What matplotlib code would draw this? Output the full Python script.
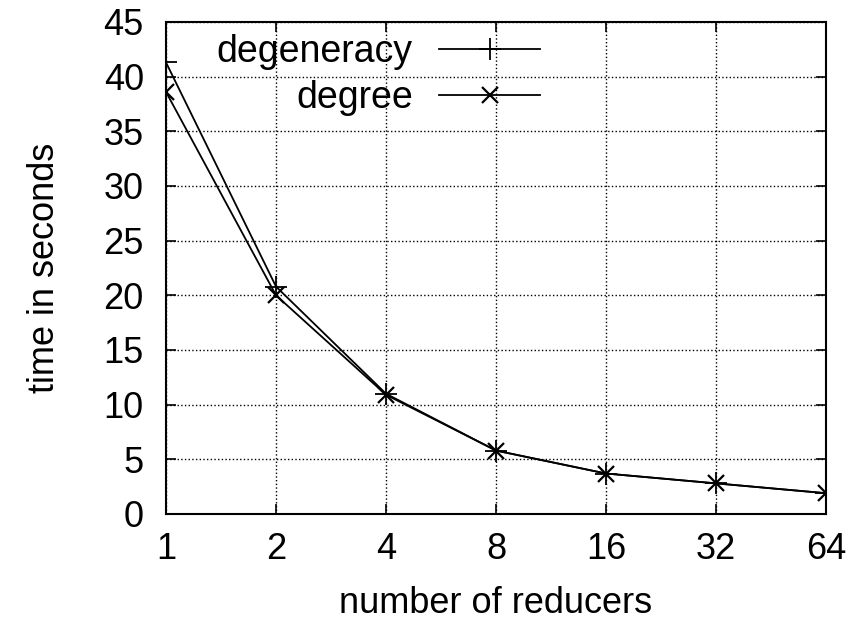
import matplotlib
matplotlib.use("Agg")
import matplotlib.pyplot as plt

plt.rcParams['font.family'] = ['Liberation Sans', 'DejaVu Sans']

# 数据
reducers = [1, 2, 4, 8, 16, 32, 64]
degeneracy = [41.3, 20.8, 11.0, 5.8, 3.7, 2.8, 1.9]
degree = [38.6, 20.0, 10.9, 5.8, 3.7, 2.8, 1.9]
yticks = [0, 5, 10, 15, 20, 25, 30, 35, 40, 45]

fig = plt.figure(figsize=(8.58, 6.34), dpi=100)
ax = fig.add_axes([0.1935, 0.1893, 0.7692, 0.776])

ax.plot(reducers, degeneracy, color='black', lw=1.3, marker='+', ms=16, mew=1.3,
        label='degeneracy')
ax.plot(reducers, degree, color='black', lw=1.3, marker='x', ms=12, mew=1.6,
        label='degree')

ax.set_xscale('log', base=2)
ax.set_xlim(1, 64)
ax.set_ylim(0, 45)
ax.set_xticks(reducers)
ax.set_xticklabels([str(r) for r in reducers])
ax.set_yticks(yticks)
ax.minorticks_off()

ax.grid(True, color='black', linestyle=':', linewidth=1.0)
ax.tick_params(direction='in', length=7, width=1.2, top=True, right=True,
               labelsize=26)
ax.tick_params(axis='y', pad=16)
ax.tick_params(axis='x', pad=13)
for s in ax.spines.values():
    s.set_linewidth(1.5)

ax.set_xlabel('number of reducers', fontsize=26, labelpad=14)
ax.set_ylabel('time in seconds', fontsize=26, labelpad=30)

# 图例: 文字在左, 线在右 (gnuplot风格)
ax.legend(loc='upper right', bbox_to_anchor=(0.567, 0.975), frameon=False,
          markerfirst=False, fontsize=27, handlelength=2.7,
          handletextpad=0.7, labelspacing=0.25, borderpad=0, borderaxespad=0)

fig.savefig('out.png', dpi=100)
